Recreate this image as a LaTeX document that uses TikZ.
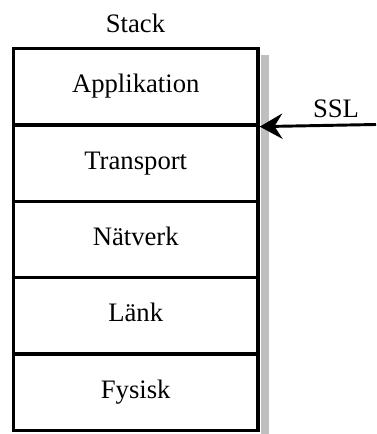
\documentclass[tikz,border=0pt]{standalone}
\usepackage{fontspec}
\setmainfont{Liberation Serif}
\usetikzlibrary{arrows.meta}
\begin{document}
\begin{tikzpicture}[x=0.75pt,y=-0.75pt,
  lbl/.style={font=\fontsize{20}{24}\selectfont, inner sep=0pt},
  layer/.style={draw=black, line width=2.6pt, minimum width=183.4pt, minimum height=57.3pt,
    inner sep=0pt, font=\fontsize{20}{24}\selectfont, text height=14pt, text depth=5pt, fill=white},
  shadow/.style={fill=black!25, draw=none},
  sslarrow/.style={line width=2.2pt, -{Stealth[length=17pt,width=19pt,inset=6pt]}}]
\useasboundingbox (0,0) rectangle (376,434);
\fill[shadow] (261,55) rectangle (269,434);
\node[layer] (app) at (135.75,86.7) {Applikation};
\node[layer] (tra) at (135.75,163.1) {Transport};
\node[layer] (nat) at (135.75,239.5) {Nätverk};
\node[layer] (lan) at (135.75,315.9) {Länk};
\node[layer] (fys) at (135.75,392.3) {Fysisk};
\node[lbl] (stack) at (135.5,23) {Stack};
\node[lbl] (ssl) at (336,109) {SSL};
\coordinate (s) at (376,124.5);
\draw[sslarrow] (s) -- (app.south east);
\end{tikzpicture}
\end{document}
